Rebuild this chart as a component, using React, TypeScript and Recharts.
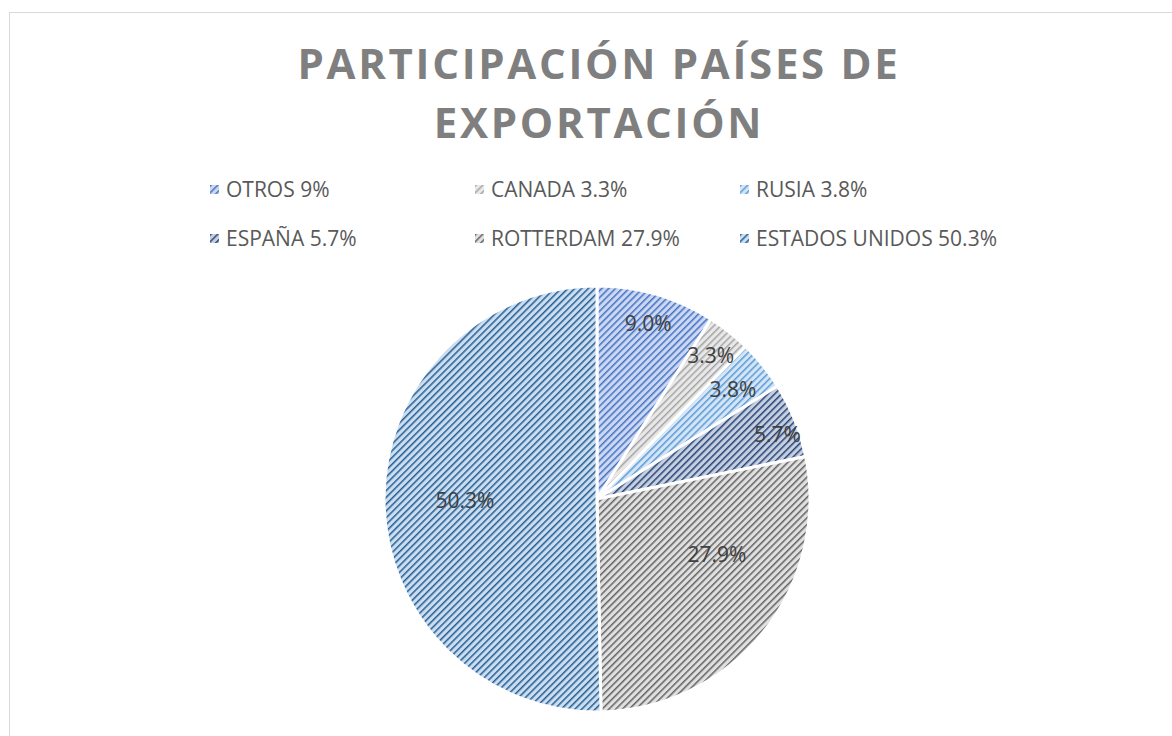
import { Cell, Pie, PieChart } from "recharts";

// export destinations, clockwise from 12 o'clock
const countries = ["OTROS", "CANADA", "RUSIA", "ESPAÑA", "ROTTERDAM", "ESTADOS UNIDOS"];
const shares = [9, 3.3, 3.8, 5.7, 27.9, 50.3];

// pattern colours: stripe / background
const stripeColors = ["#4472c4", "#a5a5a5", "#5b9bd5", "#264478", "#636363", "#255e91"];
const backColors = ["#ccd8f2", "#e8e8e8", "#d3e5f6", "#c6cfdf", "#e0e0e0", "#cbddf0"];

// Excel "best fit" label placement, as fraction of radius + angle nudge
const labelRadius = [0.86, 0.86, 0.82, 0.9, 0.62, 0.62];
const labelShift = [0, 0, 0, -2, 14, 0];

const FONT = "'Open Sans', sans-serif";
const RAD = Math.PI / 180;

const data = countries.map((name, i) => ({ name, value: shares[i] }));

function renderLabel(props: any) {
  const { cx, cy, midAngle, outerRadius, index, value } = props;
  const r = outerRadius * labelRadius[index];
  const a = (midAngle + labelShift[index]) * RAD;
  const x = cx + r * Math.cos(a);
  const y = cy - r * Math.sin(a);
  return (
    <text
      x={x}
      y={y}
      fill="#404040"
      fontSize={21}
      fontFamily={FONT}
      textAnchor="middle"
      dominantBaseline="central"
    >
      {`${Number(value).toFixed(1)}%`}
    </text>
  );
}

export default function App() {
  return (
    <div
      style={{
        position: "fixed",
        left: 0,
        top: 0,
        width: 1172,
        height: 736,
        overflow: "hidden",
        background: "#fff",
        fontFamily: FONT,
      }}
    >
      <svg width={0} height={0} style={{ position: "absolute" }}>
        <defs>
          {countries.map((c, i) => (
            <pattern
              key={c}
              id={`hatch-${i}`}
              width={4.8}
              height={4.8}
              patternUnits="userSpaceOnUse"
              patternTransform="rotate(45)"
            >
              <rect width={4.8} height={4.8} fill={backColors[i]} />
              <rect width={1.5} height={4.8} fill={stripeColors[i]} />
            </pattern>
          ))}
        </defs>
      </svg>
      {/* chart area border runs off the right/bottom of the frame */}
      <div
        style={{
          position: "absolute",
          left: 9,
          top: 12,
          width: 1200,
          height: 800,
          border: "1px solid #d9d9d9",
        }}
      />
      <div
        style={{
          position: "absolute",
          left: 0,
          top: 33,
          width: 1192,
          textAlign: "center",
          fontSize: 42,
          fontWeight: 700,
          lineHeight: "59px",
          letterSpacing: 2.7,
          color: "#7f7f7f",
          paddingLeft: 3,
        }}
      >
        PARTICIPACIÓN PAÍSES DE
        <br />
        EXPORTACIÓN
      </div>
      {countries.map((c, i) => (
        <div
          key={c}
          style={{
            position: "absolute",
            left: 210 + (i % 3) * 265,
            top: 174 + Math.floor(i / 3) * 49,
            height: 30,
            display: "flex",
            alignItems: "center",
            fontSize: 21,
            color: "#595959",
            whiteSpace: "nowrap",
          }}
        >
          <svg width={9} height={9} style={{ marginRight: 7 }}>
            <rect width={9} height={9} fill={`url(#hatch-${i})`} />
          </svg>
          {`${c} ${shares[i]}%`}
        </div>
      ))}
      <div style={{ position: "absolute", left: 0, top: 0 }}>
        <PieChart width={1172} height={736} margin={{ top: 0, right: 0, bottom: 0, left: 0 }}>
          <Pie
            data={data}
            dataKey="value"
            nameKey="name"
            cx={597}
            cy={499}
            outerRadius={213}
            startAngle={90}
            endAngle={-270}
            stroke="#ffffff"
            strokeWidth={3}
            label={renderLabel}
            labelLine={false}
            isAnimationActive={false}
          >
            {data.map((d, i) => (
              <Cell key={d.name} fill={`url(#hatch-${i})`} />
            ))}
          </Pie>
        </PieChart>
      </div>
    </div>
  );
}
